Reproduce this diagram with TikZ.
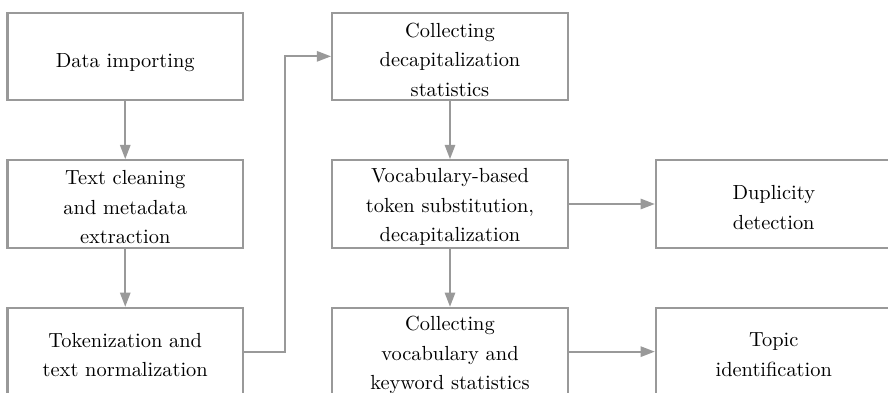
\documentclass[tikz,border=0pt]{standalone}
\usetikzlibrary{arrows.meta}
\definecolor{linegray}{HTML}{999999}
\begin{document}
\begin{tikzpicture}[x=0.49pt,y=-0.49pt,
  box/.style={draw=linegray, line width=1.1pt, minimum width=235.5*0.49pt, minimum height=87.3*0.49pt, inner sep=0pt},
  txt/.style={align=center, font=\fontsize{10}{14.5}\selectfont, yshift=-1.6pt},
  conn/.style={draw=linegray, line width=1.1pt, -{Triangle[length=7pt,width=5pt]}}]
\useasboundingbox (0,0) rectangle (888,393);
\node[box, label={[txt, yshift=-1.3pt]center:Data importing}] (a) at (125.25,56.35) {};
\node[box, label={[txt]center:Text cleaning\\and metadata\\extraction}] (b) at (125.25,204) {};
\node[box, label={[txt]center:Tokenization and\\text normalization}] (c) at (125.25,351.65) {};
\node[box, label={[txt]center:Collecting\\decapitalization\\statistics}] (d) at (450,56.35) {};
\node[box, label={[txt]center:Vocabulary-based\\token substitution,\\decapitalization}] (e) at (450,204) {};
\node[box, label={[txt]center:Collecting\\vocabulary and\\keyword statistics}] (f) at (450,351.65) {};
\node[box, label={[txt]center:Duplicity\\detection}] (g) at (773.75,204) {};
\node[box, label={[txt]center:Topic\\identification}] (h) at (773.75,351.65) {};
\coordinate (k1) at (285,351.65);
\coordinate (k2) at (285,56.35);
\draw[conn] (a) -- (b);
\draw[conn] (b) -- (c);
\draw[conn] (c.east) -- (k1) -- (k2) -- (d.west);
\draw[conn] (d) -- (e);
\draw[conn] (e) -- (f);
\draw[conn] (e) -- (g);
\draw[conn] (f) -- (h);
\end{tikzpicture}
\end{document}
